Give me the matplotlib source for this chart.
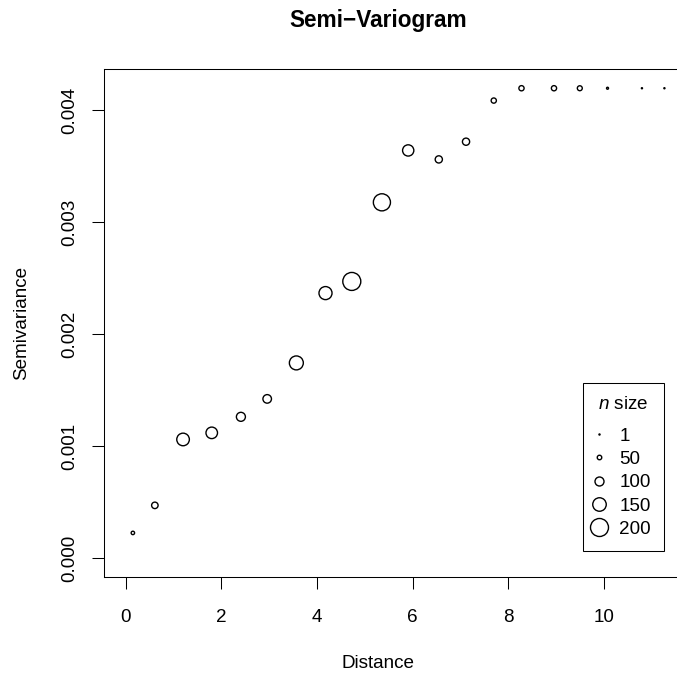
"""Semi-variogram: semivariance vs distance, point size by number of pairs."""

import matplotlib
matplotlib.use("Agg")
import matplotlib.pyplot as plt
from matplotlib.lines import Line2D
import numpy as np

plt.rcParams["font.family"] = ["Liberation Sans", "DejaVu Sans"]
plt.rcParams["mathtext.fontset"] = "custom"
plt.rcParams["mathtext.it"] = "Liberation Sans:italic"
plt.rcParams["mathtext.rm"] = "Liberation Sans"

# data
distance = [0.15, 0.61, 1.20, 1.80, 2.41, 2.96, 3.57, 4.18, 4.73, 5.36,
            5.91, 6.55, 7.12, 7.70, 8.28, 8.96, 9.50, 10.08, 10.80, 11.27]
semivariance = [0.000228, 0.000474, 0.001062, 0.001121, 0.001264, 0.001424,
                0.001745, 0.002368, 0.002472, 0.003178, 0.003641, 0.003561,
                0.003719, 0.004086, 0.004196, 0.004196, 0.004196, 0.004196,
                0.004196, 0.004196]
n_pairs = [38, 72, 140, 128, 100, 95, 155, 145, 200, 190,
           125, 80, 80, 58, 58, 58, 55, 22, 12, 12]
legend_n = [1, 50, 100, 150, 200]

W, H, DPI = 677, 675, 100
BASE = 13.6


def marker_pt(n):
    """Diameter of a circle in points, proportional to n."""
    return max(0.09 * n * 72 / DPI, 0.8)


fig = plt.figure(figsize=(W / DPI, H / DPI), dpi=DPI)
# plot box: left 104px, top 69px, bottom 577px; right side runs past the image
ax = fig.add_axes([104 / W, 1 - 577.3 / H, 47.8 * 12.954 / W, (577.3 - 69.3) / H])

sizes = np.array([marker_pt(n) for n in n_pairs]) ** 2
ax.scatter(distance, semivariance, s=sizes, facecolors="none",
           edgecolors="black", linewidths=1.0, zorder=3)

ax.set_xlim(-0.454, 12.5)
ax.set_ylim(-0.000168, 0.004365)
ax.set_xticks([0, 2, 4, 6, 8, 10])
ax.set_yticks([0.000, 0.001, 0.002, 0.003, 0.004])
ax.set_yticklabels(["0.000", "0.001", "0.002", "0.003", "0.004"],
                   rotation=90, va="center")
ax.tick_params(axis="both", direction="out", length=8.6, width=0.75,
               labelsize=BASE, colors="black")
ax.tick_params(axis="x", pad=14.5)
ax.tick_params(axis="y", pad=10)
for sp in ax.spines.values():
    sp.set_linewidth(0.75)
    sp.set_color("black")

fig.text(378 / W, 1 - 27.5 / H, "Semi\u2212Variogram", ha="center",
         va="baseline", fontsize=BASE * 1.2, fontweight="bold")
fig.text(378 / W, 1 - 668 / H, "Distance", ha="center", va="baseline",
         fontsize=BASE)
fig.text(26 / W, 1 - 323 / H, "Semivariance", ha="center", va="baseline",
         rotation=90, fontsize=BASE, rotation_mode="anchor")

handles = [Line2D([], [], marker="o", linestyle="none",
                  markersize=marker_pt(n), markerfacecolor="none",
                  markeredgecolor="black", markeredgewidth=1.0)
           for n in legend_n]
leg = ax.legend(handles, [str(n) for n in legend_n], title="$\\mathit{n}$ size",
                loc="upper right", bbox_to_anchor=(664.3 / W, 1 - 382.7 / H),
                bbox_transform=fig.transFigure, borderaxespad=0,
                fontsize=BASE, title_fontsize=BASE, frameon=True,
                fancybox=False, edgecolor="black", framealpha=1,
                handlelength=0.3, handletextpad=0.95, labelspacing=0.32,
                borderpad=0.7)
leg.get_frame().set_linewidth(0.75)
leg._legend_box.sep = 10.5  # extra gap under the legend title (points)

fig.savefig("out.png", dpi=DPI)
